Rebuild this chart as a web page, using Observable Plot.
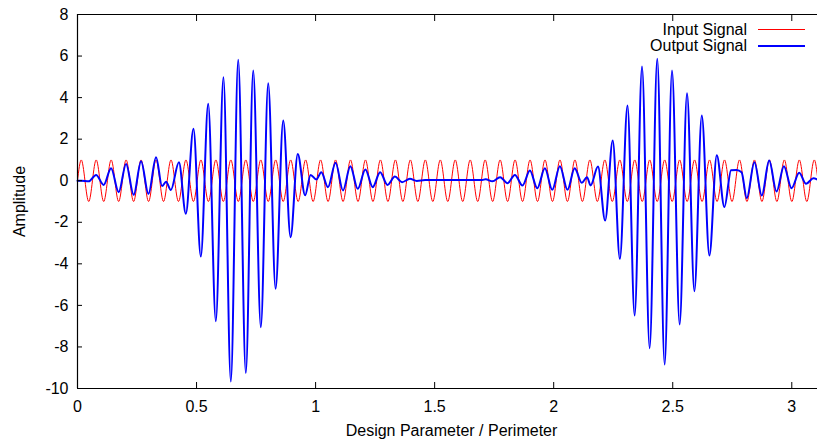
<!DOCTYPE html>
<html><head><meta charset="utf-8">
<script src="https://cdn.jsdelivr.net/npm/d3@7"></script>
<script src="https://cdn.jsdelivr.net/npm/@observablehq/plot@0.6"></script>
<style>
html,body{margin:0;padding:0;background:#fff;overflow:hidden}
#wrap{position:relative;width:817px;height:441px}
.lgt{position:absolute;font:16px "Liberation Sans",Arial,sans-serif;color:#000;line-height:16px;white-space:nowrap;text-align:right}
.lgl{position:absolute;width:47px;height:0}
</style></head><body><div id="wrap"></div>
<script>
// Axis setup
const xDomain = [0, 3.1416];
const yDomain = [-10, 8];
const xTicks = [0, 0.5, 1, 1.5, 2, 2.5, 3];
const xTickLabels = ["0", "0.5", "1", "1.5", "2", "2.5", "3"];
const yTicks = [-10, -8, -6, -4, -2, 0, 2, 4, 6, 8];
const yTickLabels = ["-10", "-8", "-6", "-4", "-2", "0", "2", "4", "6", "8"];
const xTitle = "Design Parameter / Perimeter";
const yTitle = "Amplitude";
const seriesNames = ["Input Signal", "Output Signal"];

// Input signal: extremes
const inputX = [0,
  0.0157, 0.0471, 0.0785, 0.1100, 0.1414, 0.1728, 0.2042, 0.2356, 0.2670, 0.2985,
  0.3299, 0.3613, 0.3927, 0.4241, 0.4555, 0.4869, 0.5184, 0.5498, 0.5812, 0.6126,
  0.6440, 0.6754, 0.7069, 0.7383, 0.7697, 0.8011, 0.8325, 0.8639, 0.8954, 0.9268,
  0.9582, 0.9896, 1.0210, 1.0524, 1.0838, 1.1153, 1.1467, 1.1781, 1.2095, 1.2409,
  1.2723, 1.3038, 1.3352, 1.3666, 1.3980, 1.4294, 1.4608, 1.4923, 1.5237, 1.5551,
  1.5865, 1.6179, 1.6493, 1.6808, 1.7122, 1.7436, 1.7750, 1.8064, 1.8378, 1.8692,
  1.9007, 1.9321, 1.9635, 1.9949, 2.0263, 2.0577, 2.0892, 2.1206, 2.1520, 2.1834,
  2.2148, 2.2462, 2.2777, 2.3091, 2.3405, 2.3719, 2.4033, 2.4347, 2.4662, 2.4976,
  2.5290, 2.5604, 2.5918, 2.6232, 2.6546, 2.6861, 2.7175, 2.7489, 2.7803, 2.8117,
  2.8431, 2.8746, 2.9060, 2.9374, 2.9688, 3.0002, 3.0316, 3.0631, 3.0945, 3.1259,
  3.1416];
const inputY = [0,
  1, -1, 1, -1, 1, -1, 1, -1, 1, -1,
  1, -1, 1, -1, 1, -1, 1, -1, 1, -1,
  1, -1, 1, -1, 1, -1, 1, -1, 1, -1,
  1, -1, 1, -1, 1, -1, 1, -1, 1, -1,
  1, -1, 1, -1, 1, -1, 1, -1, 1, -1,
  1, -1, 1, -1, 1, -1, 1, -1, 1, -1,
  1, -1, 1, -1, 1, -1, 1, -1, 1, -1,
  1, -1, 1, -1, 1, -1, 1, -1, 1, -1,
  1, -1, 1, -1, 1, -1, 1, -1, 1, -1,
  1, -1, 1, -1, 1, -1, 1, -1, 1, -1,
  0];

// Output signal: peaks / troughs
const outputX = [
  0.000, 0.016, 0.047, 0.078, 0.110, 0.141, 0.173, 0.204, 0.236, 0.267,
  0.298, 0.330, 0.355, 0.372, 0.392, 0.426, 0.455, 0.487, 0.518, 0.549,
  0.581, 0.613, 0.644, 0.675, 0.707, 0.738, 0.770, 0.801, 0.832, 0.864,
  0.895, 0.925, 0.956, 0.979, 1.003, 1.024, 1.052, 1.084, 1.115, 1.146,
  1.177, 1.209, 1.240, 1.271, 1.302, 1.333, 1.363, 1.396, 1.425, 1.460,
  1.700, 1.714, 1.743, 1.775, 1.806, 1.837, 1.869, 1.900, 1.931, 1.963,
  1.994, 2.026, 2.058, 2.088, 2.118, 2.140, 2.155, 2.186, 2.216, 2.248,
  2.278, 2.310, 2.340, 2.371, 2.403, 2.435, 2.466, 2.497, 2.529, 2.560,
  2.591, 2.622, 2.654, 2.685, 2.717, 2.745, 2.768, 2.789, 2.811, 2.843,
  2.874, 2.905, 2.936, 2.967, 2.999, 3.031, 3.060, 3.091, 3.109];
const outputY = [
  0.00, 0.00, -0.03, 0.28, -0.20, 0.60, -0.55, 0.81, -0.68, 0.94,
  -0.63, 1.13, -0.26, -0.05, -0.45, 0.89, -1.59, 2.50, -3.65, 3.70,
  -6.76, 4.98, -9.66, 5.82, -9.26, 5.30, -7.05, 4.69, -5.20, 2.90,
  -2.72, 1.29, -0.70, 0.28, 0.06, 0.41, -0.31, 0.86, -0.47, 0.70,
  -0.39, 0.54, -0.31, 0.41, -0.20, 0.20, -0.07, 0.09, -0.01, 0.03,
  0.03, 0.07, -0.03, 0.17, -0.12, 0.28, -0.23, 0.49, -0.36, 0.60,
  -0.44, 0.70, -0.44, 0.60, -0.10, 0.17, -0.23, 0.68, -1.92, 1.93,
  -3.76, 3.62, -6.49, 5.50, -8.06, 5.87, -8.85, 5.30, -6.92, 4.21,
  -5.32, 3.14, -3.60, 1.23, -1.27, 0.50, 0.52, 0.41, -0.84, 0.89,
  -0.71, 0.97, -0.52, 0.70, -0.36, 0.38, -0.15, 0.12, 0.05];

const inputData = inputX.map((x, i) => ({x, y: inputY[i]}));
const outputData = outputX.map((x, i) => ({x, y: outputY[i]}));

const chart = Plot.plot({
  width: 817, height: 441,
  marginLeft: 77, marginRight: -8, marginTop: 14, marginBottom: 53,
  style: {fontFamily: "'Liberation Sans', Arial, sans-serif", fontSize: "16px", background: "white", color: "black", overflow: "hidden"},
  x: {domain: xDomain, axis: null},
  y: {domain: yDomain, axis: null},
  marks: [
    Plot.line(inputData, {x: "x", y: "y", stroke: "#ff0000", strokeWidth: 1, curve: "monotone-x"}),
    Plot.line(outputData, {x: "x", y: "y", stroke: "#0000ff", strokeWidth: 2, curve: "monotone-x"}),
    Plot.ruleX([xDomain[0]], {stroke: "black", strokeWidth: 1.2}),
    Plot.ruleY(yDomain, {stroke: "black", strokeWidth: 1.2}),
    Plot.axisY({ticks: yTicks, tickSize: -5, tickPadding: 14, tickFormat: d => yTickLabels[yTicks.indexOf(d)], label: null, fontSize: 16}),
    Plot.axisX({anchor: "bottom", ticks: xTicks, tickSize: -6, tickPadding: 18, tickFormat: d => xTickLabels[xTicks.indexOf(d)], label: null, fontSize: 16}),
    Plot.axisX({anchor: "top", ticks: xTicks, tickSize: -6, tickFormat: () => "", label: null}),
    Plot.text([xTitle], {frameAnchor: "bottom", dy: 42, lineAnchor: "middle", textAnchor: "middle", fontSize: 16}),
    Plot.text([yTitle], {frameAnchor: "left", dx: -58, rotate: -90, lineAnchor: "middle", textAnchor: "middle", fontSize: 16})
  ]
});
const wrap = document.getElementById("wrap");
wrap.appendChild(chart);

// Legend (top right, inside the frame)
const legendColors = ["#ff0000", "#0000ff"];
const legendWidths = [1, 2];
const legendCenters = [29.5, 45.8];
seriesNames.forEach((name, i) => {
  const t = document.createElement("div");
  t.className = "lgt";
  t.textContent = name;
  t.style.right = (817 - 747) + "px";
  t.style.top = (legendCenters[i] - 8) + "px";
  wrap.appendChild(t);
  const l = document.createElement("div");
  l.className = "lgl";
  l.style.left = "758px";
  l.style.top = (legendCenters[i] - legendWidths[i] / 2) + "px";
  l.style.borderTop = legendWidths[i] + "px solid " + legendColors[i];
  wrap.appendChild(l);
});
</script></body></html>
